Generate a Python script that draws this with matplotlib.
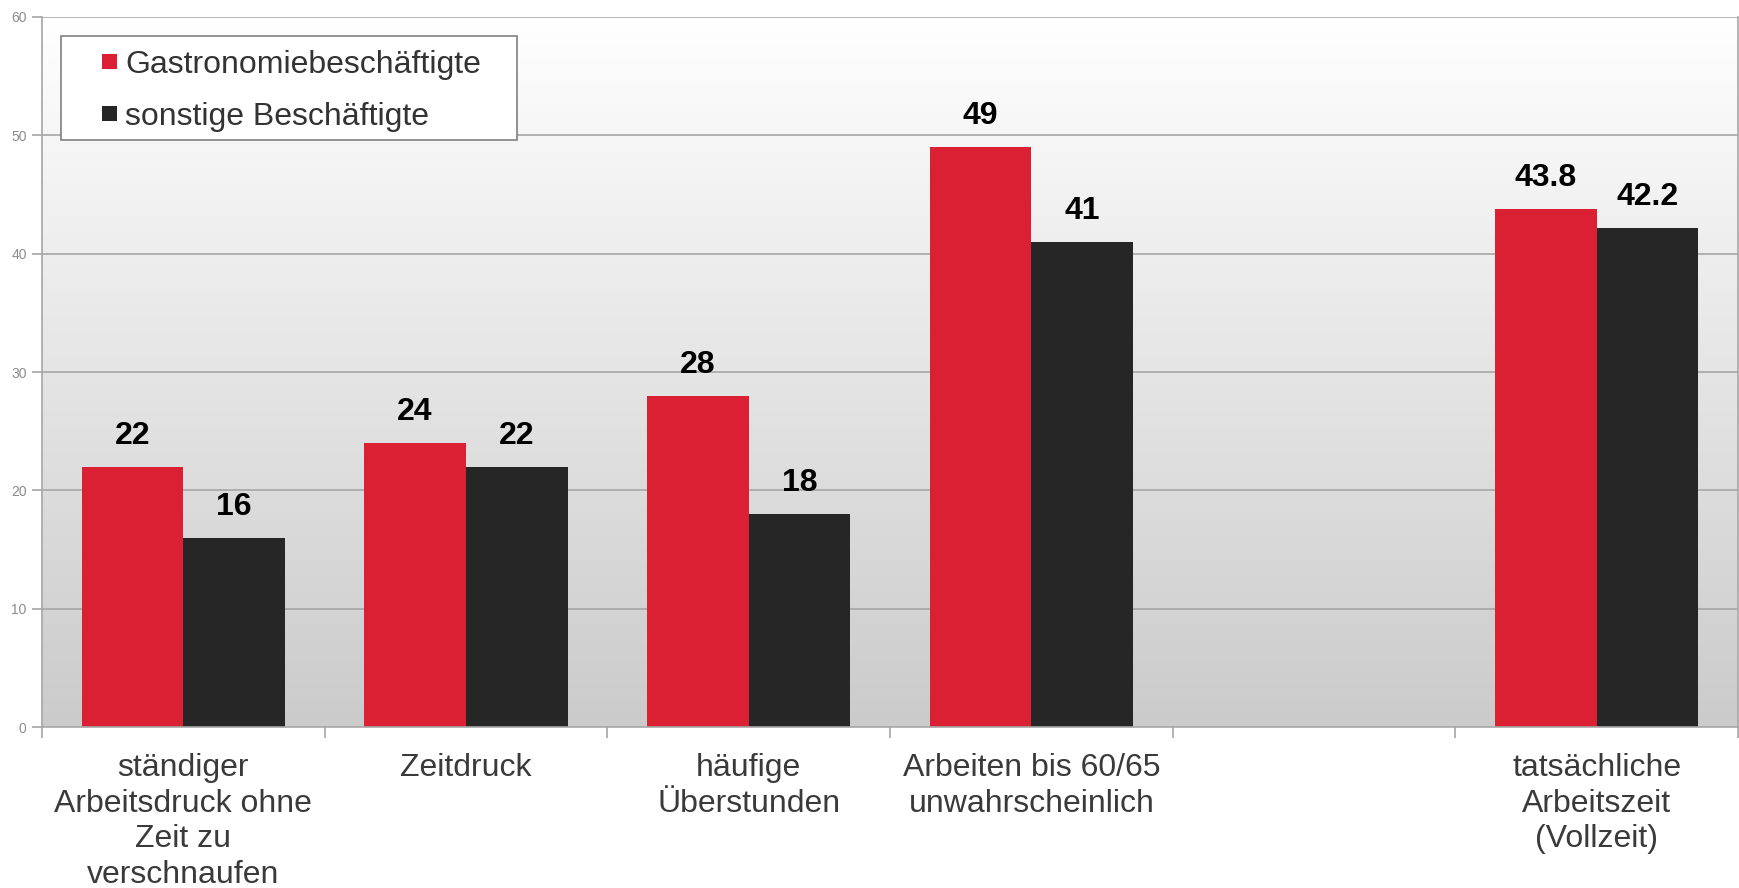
import numpy as np
import matplotlib
matplotlib.use('Agg')
import matplotlib.pyplot as plt
from matplotlib.patches import Rectangle

plt.rcParams['font.family'] = ['Liberation Sans', 'DejaVu Sans']

categories = ['ständiger\nArbeitsdruck ohne\nZeit zu\nverschnaufen', 'Zeitdruck',
              'häufige\nÜberstunden', 'Arbeiten bis 60/65\nunwahrscheinlich', '',
              'tatsächliche\nArbeitszeit\n(Vollzeit)']
gastro = [22, 24, 28, 49, np.nan, 43.8]
sonstige = [16, 22, 18, 41, np.nan, 42.2]
series_names = ['Gastronomiebeschäftigte', 'sonstige Beschäftigte']
yticks = [0, 10, 20, 30, 40, 50, 60]

RED = '#dc2034'
DARK = '#262626'
GRID = '#a6a6a6'
W, H = 1740, 888

fig = plt.figure(figsize=(W / 100, H / 100), dpi=100)
ax = fig.add_axes([42 / W, 1 - 727 / H, 1696 / W, 710 / H])

n = len(categories)
ax.set_xlim(0, n)
ax.set_ylim(0, 60)

# gradient background: white at the top, light grey at the bottom
grad = np.linspace(1, 0, 256).reshape(-1, 1)
ax.imshow(grad, cmap=matplotlib.colors.LinearSegmentedColormap.from_list(
    'bg', ['#cbcbcb', '#ffffff']), aspect='auto', extent=(0, n, 0, 60),
    zorder=0, origin='upper')

for y in yticks[1:]:
    ax.axhline(y, color=GRID, lw=1.2, zorder=1)

x = np.arange(n) + 0.5
w = 0.36
b1 = ax.bar(x - w / 2, gastro, w, color=RED, zorder=2)
b2 = ax.bar(x + w / 2, sonstige, w, color=DARK, zorder=2)

for bars, vals in ((b1, gastro), (b2, sonstige)):
    for bar, v in zip(bars, vals):
        if np.isnan(v):
            continue
        ax.text(bar.get_x() + bar.get_width() / 2, v + 2.6, f'{v:g}',
                ha='center', va='center', fontsize=23, fontweight='bold',
                color='black', zorder=3)

ax.spines['top'].set_visible(False)
for s in ['left', 'bottom', 'right']:
    ax.spines[s].set_color(GRID)
    ax.spines[s].set_linewidth(1.2)

ax.set_yticks(yticks)
ax.tick_params(axis='y', colors=GRID, labelcolor='#8c8c8c', labelsize=10,
               length=7, width=1.2, pad=4)

ax.set_xticks(np.arange(n + 1))
ax.set_xticklabels([])
ax.tick_params(axis='x', which='major', colors=GRID, length=8, width=1.2)
ax.set_xticks(x, minor=True)
ax.set_xticklabels(categories, minor=True, fontsize=23, color='#3a3a3a',
                   linespacing=1.24)
ax.tick_params(axis='x', which='minor', length=0, pad=19)

# legend box drawn by hand to match the padding of the original
fig.patches.append(Rectangle((61 / W, 1 - 140 / H), 456 / W, 104 / H,
                             transform=fig.transFigure, facecolor='white',
                             edgecolor='#808080', lw=1.2, zorder=5))
for i, (name, col) in enumerate(zip(series_names, [RED, DARK])):
    cy = 62 + i * 52
    fig.patches.append(Rectangle((102 / W, 1 - (cy + 7) / H), 14.5 / W, 14.5 / H,
                                 transform=fig.transFigure, facecolor=col,
                                 edgecolor='none', zorder=6))
    fig.text(125 / W, 1 - cy / H, name, fontsize=23, color='#333333',
             va='center_baseline', ha='left', zorder=7)

fig.savefig('out.png', dpi=100)
